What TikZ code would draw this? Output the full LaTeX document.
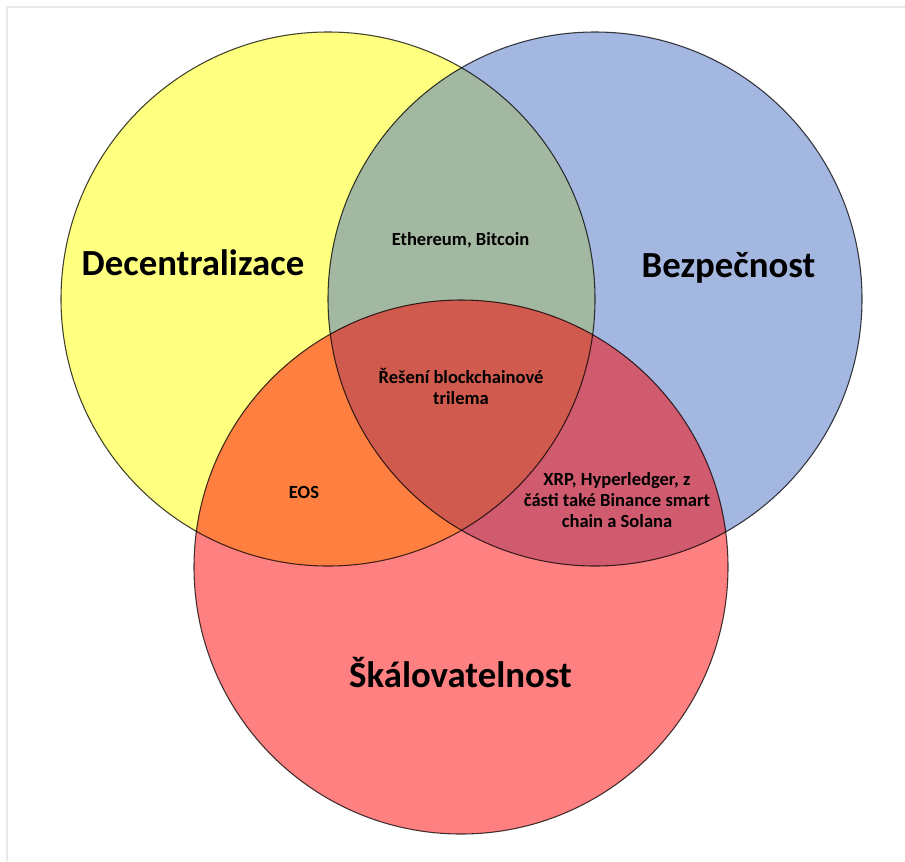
\documentclass[tikz,border=0pt]{standalone}
\usepackage{fontspec}
\setmainfont{Carlito}
\definecolor{cYel}{HTML}{FFFF80}
\definecolor{cBlu}{HTML}{A4B7E0}
\definecolor{cRed}{HTML}{FF8080}
\definecolor{cYB}{HTML}{A3B8A0}
\definecolor{cYR}{HTML}{FF7F40}
\definecolor{cBR}{HTML}{D05A6E}
\definecolor{cYBR}{HTML}{D05A4E}
\definecolor{cFrame}{HTML}{E8E8E8}
\begin{document}
\begin{tikzpicture}[x=0.75pt,y=-0.75pt,
  biglabel/.style={font=\bfseries\fontsize{27.6}{33}\selectfont, inner sep=0pt, anchor=base},
  smalllabel/.style={font=\bfseries\fontsize{13.9}{15.75}\selectfont, inner sep=0pt, anchor=base, align=center},
  ring/.style={draw=black, draw opacity=0.75, line width=0.8pt}]
\useasboundingbox (0,0) rectangle (905,861);
\fill[white] (0,0) rectangle (905,861);
% frame
\draw[cFrame, line width=1.5pt] (7,861) -- (7,7) -- (905,7);
\def\R{267}
\coordinate (cy) at (328,299);
\coordinate (cb) at (595,299);
\coordinate (cr) at (461,567);
% base fills
\fill[cYel] (cy) circle[radius=\R];
\fill[cBlu] (cb) circle[radius=\R];
\fill[cRed] (cr) circle[radius=\R];
% overlaps
\begin{scope}
  \clip (cy) circle[radius=\R];
  \fill[cYB] (cb) circle[radius=\R];
  \fill[cYR] (cr) circle[radius=\R];
\end{scope}
\begin{scope}
  \clip (cb) circle[radius=\R];
  \fill[cBR] (cr) circle[radius=\R];
\end{scope}
\begin{scope}
  \clip (cy) circle[radius=\R];
  \clip (cb) circle[radius=\R];
  \fill[cYBR] (cr) circle[radius=\R];
\end{scope}
% outlines
\draw[ring] (cy) circle[radius=\R];
\draw[ring] (cb) circle[radius=\R];
\draw[ring] (cr) circle[radius=\R];
% labels
\node[biglabel] (dec) at (193,275) {Decentralizace};
\node[biglabel] (bez) at (728.5,277) {Bezpečnost};
\node[biglabel] (ska) at (460.5,687) {Škálovatelnost};
\node[smalllabel] (eth) at (460.5,245) {Ethereum, Bitcoin};
\node[smalllabel] (tri) at (461,404) {Řešení blockchainové\\trilema};
\node[smalllabel] (eos) at (304,498) {EOS};
\node[smalllabel] (xrp) at (617,527) {XRP, Hyperledger, z\\části také Binance smart\\chain a Solana};
\end{tikzpicture}
\end{document}
